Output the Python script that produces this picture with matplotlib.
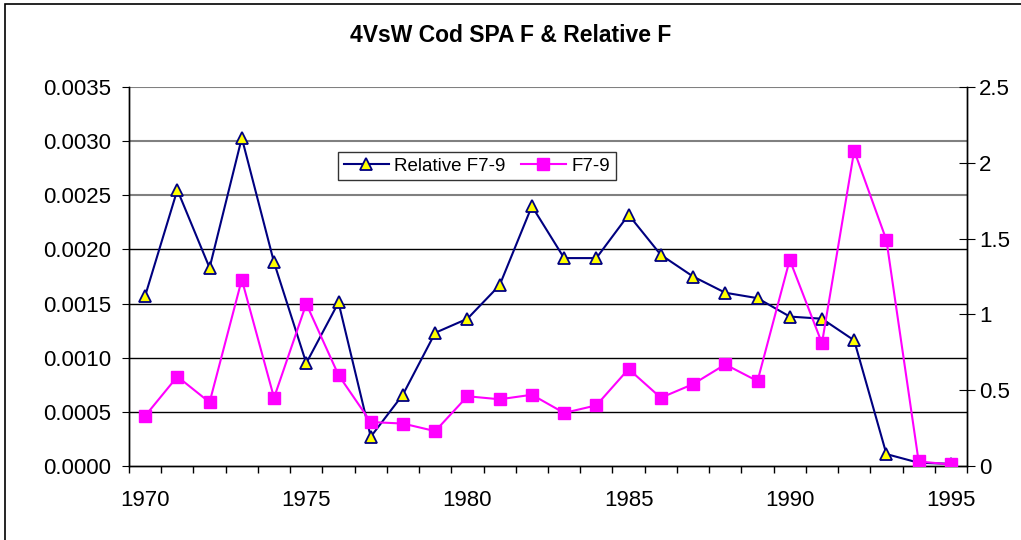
import numpy as np
import matplotlib
matplotlib.use("Agg")
import matplotlib.pyplot as plt
from matplotlib.patches import Rectangle

plt.rcParams['font.family'] = ['Liberation Sans', 'DejaVu Sans']

years = list(range(1970, 1996))
relative_f = [0.00157, 0.00255, 0.00183, 0.00303, 0.00188, 0.00095, 0.00151,
              0.00027, 0.00066, 0.00123, 0.00136, 0.00167, 0.00240, 0.00192,
              0.00192, 0.00232, 0.00195, 0.00175, 0.00160, 0.00155, 0.00138,
              0.00136, 0.00116, 0.00011, 0.00003, 0.00002]
f79 = [0.33, 0.59, 0.42, 1.23, 0.45, 1.07, 0.60, 0.29, 0.28, 0.23, 0.46,
       0.44, 0.47, 0.35, 0.40, 0.64, 0.45, 0.54, 0.67, 0.56, 1.36, 0.81,
       2.08, 1.49, 0.03, 0.01]
left_ticks = [0.0, 0.0005, 0.0010, 0.0015, 0.0020, 0.0025, 0.0030, 0.0035]
right_ticks = [0, 0.5, 1, 1.5, 2, 2.5]
year_labels = [1970, 1975, 1980, 1985, 1990, 1995]

fig = plt.figure(figsize=(10.21, 5.4), dpi=100)
ax = fig.add_axes([129/1021, 1 - 466/540, (967 - 129)/1021, (466 - 87)/540])
ax2 = ax.twinx()

# outer chart border
fig.patches.append(Rectangle((5/1021, -0.1), 1.2, 1 - 4/540 + 0.1, transform=fig.transFigure,
                             fill=False, edgecolor='black', linewidth=1.2))

# gridlines
for t in left_ticks[1:]:
    c = '#808080' if t >= 0.0025 else 'black'
    ax.axhline(t, color=c, linewidth=1.0 if c == 'black' else 1.5, zorder=0)

ax.plot(years, relative_f, color='#000080', linewidth=1.5, marker='^', markersize=9,
        markerfacecolor='#FFFF00', markeredgecolor='#000080', markeredgewidth=1.3,
        label='Relative F7-9', zorder=3)
ax2.plot(years, f79, color='#FF00FF', linewidth=1.5, marker='s', markersize=8.5,
         markerfacecolor='#FF00FF', markeredgecolor='#FF00FF', label='F7-9', zorder=3)

ax.set_xlim(1969.5, 1995.5)
ax.set_ylim(0, 0.0035)
ax2.set_ylim(0, 2.5)

ax.set_yticks(left_ticks)
ax.set_yticklabels([f"{t:.4f}" for t in left_ticks])
ax2.set_yticks(right_ticks)
ax2.set_yticklabels(['0', '0.5', '1', '1.5', '2', '2.5'])

ax.set_xticks(year_labels)
ax.set_xticklabels([str(y) for y in year_labels])
ax.set_xticks(np.arange(1969.5, 1996, 1), minor=True)
ax.tick_params(axis='x', which='major', length=0, labelsize=16, pad=17)
ax.tick_params(axis='x', which='minor', length=5, direction='out', width=1)
ax.tick_params(axis='y', labelsize=16, length=5, direction='out', pad=8)
ax2.tick_params(axis='y', labelsize=16, length=11, direction='inout', pad=3)

for a in (ax, ax2):
    a.spines['top'].set_visible(False)
    for s in ('left', 'right', 'bottom'):
        a.spines[s].set_color('black')
        a.spines[s].set_linewidth(1.0)

fig.text(0.5, 1 - 35/540, '4VsW Cod SPA F & Relative F', ha='center', va='center',
         fontsize=16.5, fontweight='bold')

h1, l1 = ax.get_legend_handles_labels()
h2, l2 = ax2.get_legend_handles_labels()
leg = ax2.legend(h1 + h2, l1 + l2, ncol=2, loc='upper left',
                 bbox_to_anchor=((338 - 129)/838, 1 - (152 - 87)/379),
                 fontsize=13.5, frameon=True, fancybox=False, edgecolor='black',
                 handlelength=2.4, handletextpad=0.3, columnspacing=0.8,
                 borderpad=0.3, borderaxespad=0)
leg.get_frame().set_linewidth(1.0)

fig.savefig('out.png', dpi=100)
